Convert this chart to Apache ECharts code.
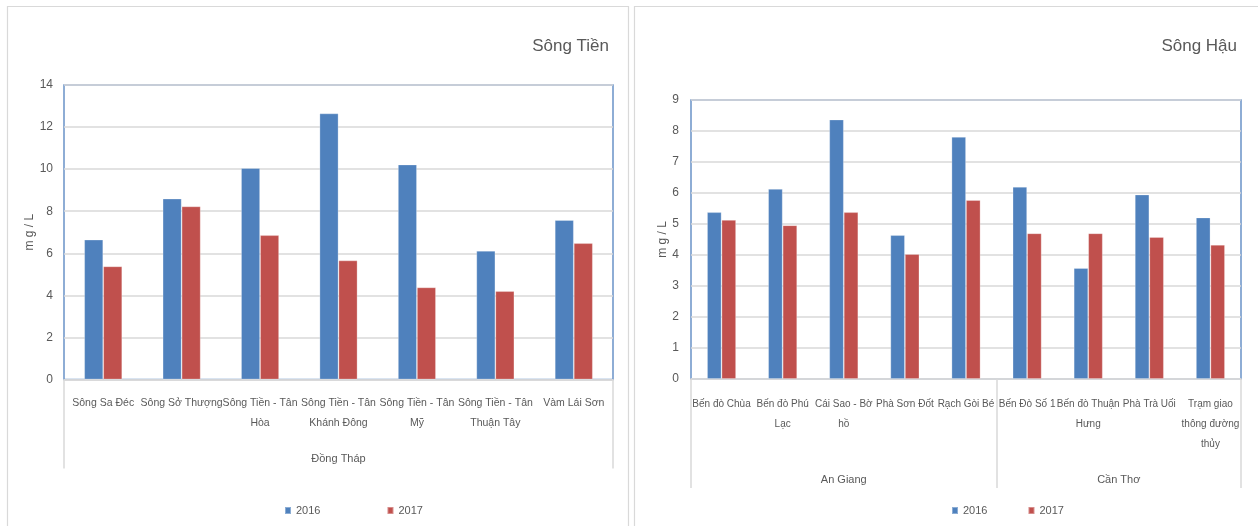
<!DOCTYPE html>
<html>
<head>
<meta charset="utf-8">
<script src="https://cdn.jsdelivr.net/npm/echarts@6/dist/echarts.min.js"></script>
<style>
html,body{margin:0;padding:0;background:#fff;}
#c{width:1258px;height:526px;}
</style>
</head>
<body>
<div id="c"></div>
<script>
// ---- Data ----
const seriesNames = ['2016', '2017'];

const tienTitle = 'Sông Tiền';
const tienCategories = ['Sông Sa Đéc', 'Sông Sở Thượng', 'Sông Tiền - Tân\nHòa', 'Sông Tiền - Tân\nKhánh Đông', 'Sông Tiền - Tân\nMỹ', 'Sông Tiền - Tân\nThuận Tây', 'Vàm Lái Sơn'];
const tienGroups = ['Đồng Tháp'];
const tienGroupSizes = [7];
const tien2016 = [6.65, 8.6, 10.05, 12.65, 10.22, 6.12, 7.58];
const tien2017 = [5.38, 8.23, 6.86, 5.66, 4.38, 4.2, 6.48];
const tienYTicks = [0, 2, 4, 6, 8, 10, 12, 14];

const hauTitle = 'Sông Hậu';
const hauCategories = ['Bến đò Chùa', 'Bến đò Phú\nLạc', 'Cái Sao - Bờ\nhồ', 'Phà Sơn Đốt', 'Rạch Gòi Bé', 'Bến Đò Số 1', 'Bến đò Thuận\nHưng', 'Phà Trà Uối', 'Trạm giao\nthông đường\nthủy'];
const hauGroups = ['An Giang', 'Cần Thơ'];
const hauGroupSizes = [5, 4];
const hau2016 = [5.38, 6.13, 8.37, 4.64, 7.81, 6.2, 3.58, 5.95, 5.21];
const hau2017 = [5.13, 4.96, 5.38, 4.03, 5.77, 4.7, 4.7, 4.58, 4.33];
const hauYTicks = [0, 1, 2, 3, 4, 5, 6, 7, 8, 9];

// ---- Styling ----
const FONT = '"Liberation Sans", Arial, sans-serif';
const TXT = '#595959';
const GRIDC = '#D9D9D9';
const BLUE = '#4F81BD';
const RED = '#C0504D';

function groupInfo(sizes) {
  const bounds = [0];
  const centers = [];
  let acc = 0;
  sizes.forEach(s => { centers.push(acc + s / 2); acc += s; bounds.push(acc); });
  return { bounds, centers, total: acc };
}
const tienG = groupInfo(tienGroupSizes);
const hauG = groupInfo(hauGroupSizes);

function catAxis(gridIndex, cats, margin, fs) {
  return {
    type: 'category', gridIndex, data: cats, position: 'bottom',
    axisLine: { show: true, lineStyle: { color: GRIDC, width: 1.5 } },
    axisTick: { show: false },
    axisLabel: { interval: 0, color: TXT, fontFamily: FONT, fontSize: fs, lineHeight: 20, margin: margin }
  };
}
function groupAxis(gridIndex, g, names, tickLen, labelMargin) {
  return {
    type: 'value', gridIndex, min: 0, max: g.total, position: 'bottom',
    axisLine: { show: false },
    splitLine: { show: false },
    axisTick: { show: true, inside: false, length: tickLen, customValues: g.bounds, lineStyle: { color: GRIDC, width: 1.5 } },
    axisLabel: {
      customValues: g.centers, margin: labelMargin, color: TXT, fontFamily: FONT, fontSize: 11, lineHeight: 20,
      formatter: v => { const i = g.centers.findIndex(c => Math.abs(c - v) < 1e-6); return i >= 0 ? names[i] : ''; }
    }
  };
}
function valAxis(gridIndex, ticks, nameGap, margin) {
  return {
    type: 'value', gridIndex, min: ticks[0], max: ticks[ticks.length - 1], interval: ticks[1] - ticks[0],
    name: 'm g / L', nameLocation: 'middle', nameGap: nameGap, nameRotate: 90,
    nameTextStyle: { color: TXT, fontFamily: FONT, fontSize: 12 },
    axisLine: { show: false }, axisTick: { show: false },
    axisLabel: { color: TXT, fontFamily: FONT, fontSize: 12, margin: margin },
    splitLine: { show: true, lineStyle: { color: GRIDC, width: 1.5 } }
  };
}
function bar(name, data, color, xi, yi, w) {
  return {
    type: 'bar', name, data, xAxisIndex: xi, yAxisIndex: yi, barWidth: w, barGap: '0%',
    itemStyle: { color, borderColor: 'rgba(255,255,255,0.35)', borderWidth: 0.8 },
    emphasis: { disabled: true }, animation: false
  };
}

const chart = echarts.init(document.getElementById('c'), null, { renderer: 'canvas' });
chart.setOption({
  backgroundColor: '#fff',
  animation: false,
  graphic: [
    { type: 'rect', shape: { x: 7.5, y: 6.5, width: 621, height: 540 }, style: { fill: 'none', stroke: GRIDC, lineWidth: 1.2 }, z: -10 },
    { type: 'rect', shape: { x: 634.5, y: 6.5, width: 640, height: 540 }, style: { fill: 'none', stroke: GRIDC, lineWidth: 1.2 }, z: -10 }
  ],
  title: [
    { text: tienTitle, right: 644, top: 33, textStyle: { color: TXT, fontFamily: FONT, fontSize: 17, fontWeight: 'normal' } },
    { text: hauTitle, right: 16, top: 33, textStyle: { color: TXT, fontFamily: FONT, fontSize: 17, fontWeight: 'normal' } }
  ],
  legend: [
    { data: seriesNames, left: 284, top: 505, padding: 0, icon: 'rect', itemWidth: 6, itemHeight: 7, itemGap: 66, selectedMode: false,
      textStyle: { color: TXT, fontFamily: FONT, fontSize: 11 } },
    { data: seriesNames, left: 951, top: 505, padding: 0, icon: 'rect', itemWidth: 6, itemHeight: 7, itemGap: 40, selectedMode: false,
      textStyle: { color: TXT, fontFamily: FONT, fontSize: 11 } }
  ],
  grid: [
    { left: 64, top: 85, right: 645, bottom: 146.5, show: true, borderColor: '#6A93C8', borderWidth: 1.5, backgroundColor: 'transparent' },
    { left: 691, top: 100, right: 17, bottom: 147, show: true, borderColor: '#6A93C8', borderWidth: 1.5, backgroundColor: 'transparent' }
  ],
  xAxis: [
    catAxis(0, tienCategories, 14, 10.5),
    catAxis(1, hauCategories, 15, 10),
    groupAxis(0, tienG, tienGroups, 89, 69),
    groupAxis(1, hauG, hauGroups, 109, 91)
  ],
  yAxis: [
    valAxis(0, tienYTicks, 22, 11),
    valAxis(1, hauYTicks, 15, 12)
  ],
  series: [
    bar(seriesNames[0], tien2016, BLUE, 0, 0, 19),
    bar(seriesNames[1], tien2017, RED, 0, 0, 19),
    bar(seriesNames[0], hau2016, BLUE, 1, 1, 14.5),
    bar(seriesNames[1], hau2017, RED, 1, 1, 14.5)
  ]
});
</script>
</body>
</html>
